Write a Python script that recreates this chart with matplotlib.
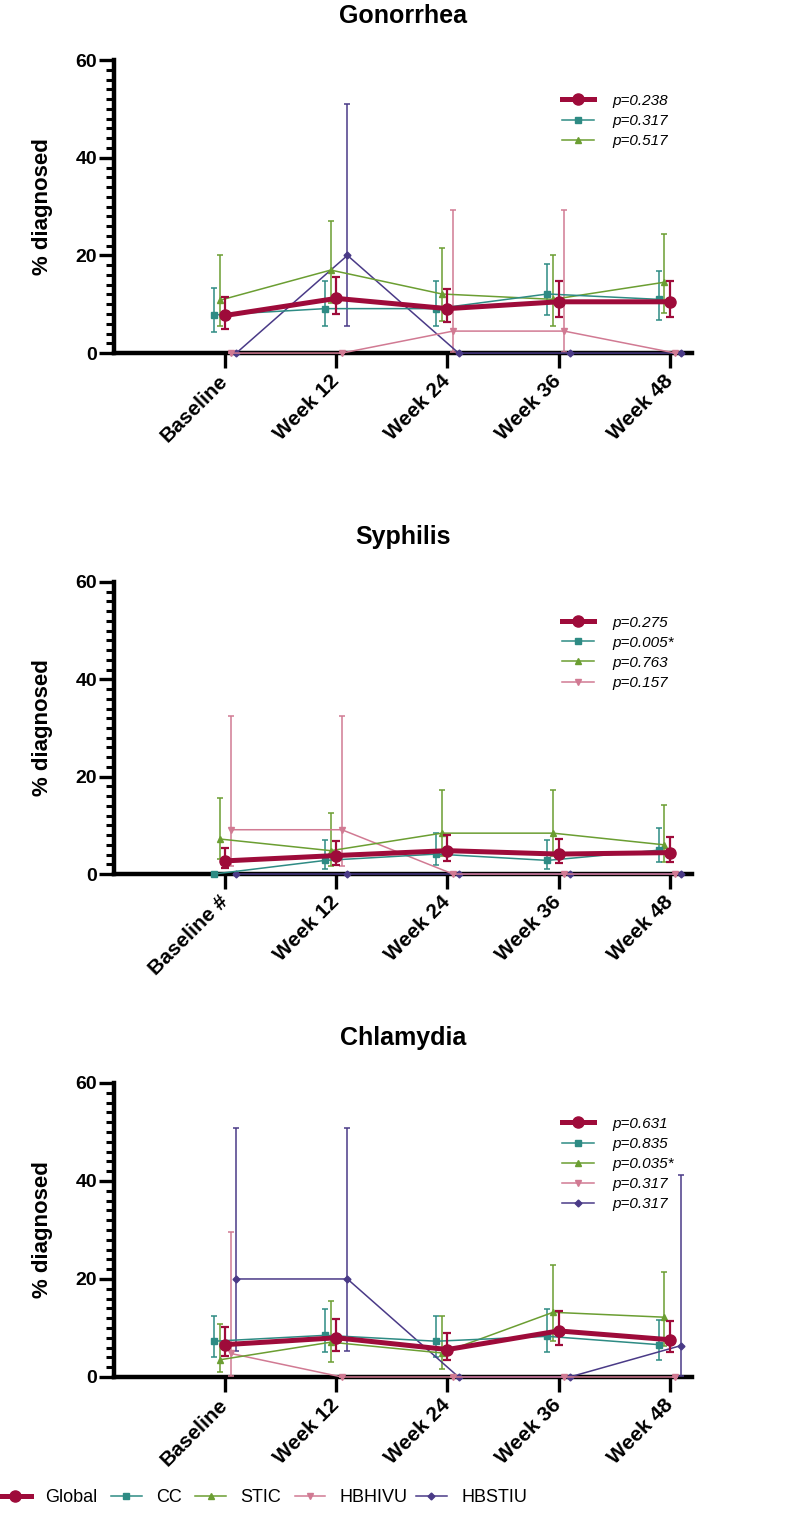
import numpy as np
import matplotlib
matplotlib.use('Agg')
import matplotlib.pyplot as plt
from matplotlib.ticker import MultipleLocator

plt.rcParams['font.family'] = ['Liberation Sans', 'DejaVu Sans']

semanas = ['Baseline', 'Week 12', 'Week 24', 'Week 36', 'Week 48']
semanas_sifilis = ['Baseline #', 'Week 12', 'Week 24', 'Week 36', 'Week 48']
grupos = ['Global', 'CC', 'STIC', 'HBHIVU', 'HBSTIU']

# Gonorrhea: valor, limite inferior, limite superior
gon_global = [7.7, 11.2, 9.1, 10.5, 10.5]
gon_global_lo = [5.0, 8.0, 6.3, 7.4, 7.4]
gon_global_hi = [11.4, 15.5, 13.1, 14.7, 14.7]
gon_cc = [7.8, 9.1, 9.1, 12.1, 11.0]
gon_cc_lo = [4.4, 5.5, 5.5, 7.8, 6.8]
gon_cc_hi = [13.3, 14.7, 14.7, 18.2, 16.8]
gon_stic = [10.8, 17.0, 12.1, 11.0, 14.5]
gon_stic_lo = [5.6, 10.2, 6.5, 5.6, 8.3]
gon_stic_hi = [20.0, 27.1, 21.5, 20.0, 24.4]
gon_hbhivu = [0, 0, 4.5, 4.5, 0]
gon_hbhivu_lo = [0, 0, 0.3, 0.3, 0]
gon_hbhivu_hi = [0, 0, 29.3, 29.3, 0]
gon_hbstiu = [0, 20.0, 0, 0, 0]
gon_hbstiu_lo = [0, 5.5, 0, 0, 0]
gon_hbstiu_hi = [0, 51.0, 0, 0, 0]
gon_p = ['p=0.238', 'p=0.317', 'p=0.517']

# Syphilis
sif_global = [2.7, 3.8, 4.8, 4.1, 4.4]
sif_global_lo = [1.2, 1.9, 2.7, 2.3, 2.5]
sif_global_hi = [5.3, 6.7, 8.1, 7.2, 7.7]
sif_cc = [0, 2.8, 4.1, 2.8, 4.9]
sif_cc_lo = [0, 1.0, 1.9, 1.0, 2.4]
sif_cc_hi = [0, 7.0, 8.5, 7.0, 9.4]
sif_stic = [7.2, 4.8, 8.4, 8.4, 6.0]
sif_stic_lo = [3.1, 1.7, 3.8, 3.8, 2.4]
sif_stic_hi = [15.6, 12.5, 17.2, 17.2, 14.1]
sif_hbhivu = [9.1, 9.1, 0, 0, 0]
sif_hbhivu_lo = [1.6, 1.6, 0, 0, 0]
sif_hbhivu_hi = [32.5, 32.5, 0, 0, 0]
sif_hbstiu = [0, 0, 0, 0, 0]
sif_hbstiu_lo = [0, 0, 0, 0, 0]
sif_hbstiu_hi = [0, 0, 0, 0, 0]
sif_p = ['p=0.275', 'p=0.005*', 'p=0.763', 'p=0.157']

# Chlamydia
cla_global = [6.6, 8.0, 5.6, 9.4, 7.6]
cla_global_lo = [4.2, 5.4, 3.4, 6.6, 5.1]
cla_global_hi = [10.2, 11.8, 9.0, 13.5, 11.5]
cla_cc = [7.3, 8.5, 7.3, 8.3, 6.6]
cla_cc_lo = [4.0, 5.0, 4.0, 5.0, 3.5]
cla_cc_hi = [12.5, 13.9, 12.5, 13.9, 11.7]
cla_stic = [3.5, 7.1, 4.9, 13.2, 12.2]
cla_stic_lo = [1.0, 3.1, 1.7, 7.3, 6.4]
cla_stic_hi = [10.9, 15.6, 12.5, 22.9, 21.4]
cla_hbhivu = [4.8, 0, 0, 0, 0]
cla_hbhivu_lo = [0.3, 0, 0, 0, 0]
cla_hbhivu_hi = [29.5, 0, 0, 0, 0]
cla_hbstiu = [20.0, 20.0, 0, 0, 6.4]
cla_hbstiu_lo = [5.4, 5.4, 0, 0, 0.3]
cla_hbstiu_hi = [50.9, 50.9, 0, 0, 41.3]
cla_p = ['p=0.631', 'p=0.835', 'p=0.035*', 'p=0.317', 'p=0.317']

paineis = [
    ('Gonorrhea', semanas, gon_p, {
        'Global': (gon_global, gon_global_lo, gon_global_hi),
        'CC': (gon_cc, gon_cc_lo, gon_cc_hi),
        'STIC': (gon_stic, gon_stic_lo, gon_stic_hi),
        'HBHIVU': (gon_hbhivu, gon_hbhivu_lo, gon_hbhivu_hi),
        'HBSTIU': (gon_hbstiu, gon_hbstiu_lo, gon_hbstiu_hi)}),
    ('Syphilis', semanas_sifilis, sif_p, {
        'Global': (sif_global, sif_global_lo, sif_global_hi),
        'CC': (sif_cc, sif_cc_lo, sif_cc_hi),
        'STIC': (sif_stic, sif_stic_lo, sif_stic_hi),
        'HBHIVU': (sif_hbhivu, sif_hbhivu_lo, sif_hbhivu_hi),
        'HBSTIU': (sif_hbstiu, sif_hbstiu_lo, sif_hbstiu_hi)}),
    ('Chlamydia', semanas, cla_p, {
        'Global': (cla_global, cla_global_lo, cla_global_hi),
        'CC': (cla_cc, cla_cc_lo, cla_cc_hi),
        'STIC': (cla_stic, cla_stic_lo, cla_stic_hi),
        'HBHIVU': (cla_hbhivu, cla_hbhivu_lo, cla_hbhivu_hi),
        'HBSTIU': (cla_hbstiu, cla_hbstiu_lo, cla_hbstiu_hi)}),
]

cores = {'Global': '#9E0B3A', 'CC': '#2E8B84', 'STIC': '#6B9E32',
         'HBHIVU': '#D17A93', 'HBSTIU': '#4A3A87'}
marcadores = {'Global': 'o', 'CC': 's', 'STIC': '^', 'HBHIVU': 'v', 'HBSTIU': 'D'}
desloc = {'Global': 0.0, 'CC': -0.1, 'STIC': -0.05, 'HBHIVU': 0.05, 'HBSTIU': 0.1}
ordem = ['HBSTIU', 'HBHIVU', 'STIC', 'CC', 'Global']

fig = plt.figure(figsize=(8, 15.14), dpi=100)
posicoes = [[0.1425, 0.7668, 0.7225, 0.1935],
            [0.1425, 0.4227, 0.7225, 0.1929],
            [0.1425, 0.0905, 0.7225, 0.1942]]

x = np.arange(1, 6)
for pos, (nome, rotulos, pvals, dados) in zip(posicoes, paineis):
    ax = fig.add_axes(pos)
    linhas = {}
    for g in ordem:
        val, lo, hi = [np.array(v, dtype=float) for v in dados[g]]
        yerr = [val - lo, hi - val]
        if g == 'Global':
            estilo = dict(lw=3.6, ms=8, capsize=3.2, elinewidth=1.6, capthick=1.6, zorder=10)
        else:
            estilo = dict(lw=1.1, ms=3.5 if g == 'HBSTIU' else 4.2, capsize=2.2,
                          elinewidth=1.1, capthick=1.1, zorder=5)
        c = ax.errorbar(x + desloc[g], val, yerr=yerr, color=cores[g],
                        marker=marcadores[g], clip_on=False, **estilo)
        linhas[g] = c.lines[0]

    ax.set_xlim(0, 5.2)
    ax.set_ylim(0, 60)
    for lado in ['top', 'right']:
        ax.spines[lado].set_visible(False)
    for lado in ['left', 'bottom']:
        ax.spines[lado].set_linewidth(3.2)
    ax.yaxis.set_major_locator(MultipleLocator(20))
    ax.yaxis.set_minor_locator(MultipleLocator(2))
    ax.tick_params(axis='both', which='major', length=11, width=2.4)
    ax.tick_params(axis='y', which='minor', length=5.5, width=2.2)
    ax.tick_params(axis='y', pad=1)
    ax.tick_params(axis='x', pad=7)
    ax.set_xticks(x)
    ax.set_xticklabels(rotulos, rotation=45, ha='right', va='center',
                       rotation_mode='anchor', fontsize=15, fontweight='bold')
    for t in ax.get_yticklabels():
        t.set_fontsize(14)
        t.set_fontweight('bold')
    ax.set_ylabel('% diagnosed', fontsize=16, fontweight='bold')
    ax.yaxis.set_label_coords(-0.105, 0.5)
    ax.set_title(nome, fontsize=18, fontweight='bold', pad=27)

    ax.legend([linhas[g] for g in grupos[:len(pvals)]], pvals,
              loc='upper left', bbox_to_anchor=(0.775, 0.885), frameon=False,
              prop={'style': 'italic', 'size': 11}, handlelength=2.1,
              handletextpad=1.2, labelspacing=0.4, borderpad=0, borderaxespad=0)

# legenda inferior
fig.legend([linhas[g] for g in grupos[:4]], grupos[:4], loc='center left',
           bbox_to_anchor=(0.0, 0.011), ncol=4, frameon=False, fontsize=13,
           handlelength=1.7, handletextpad=0.8, columnspacing=0.75,
           borderpad=0, borderaxespad=0)
fig.legend([linhas['HBSTIU']], ['HBSTIU'], loc='center left',
           bbox_to_anchor=(0.52, 0.011), frameon=False, fontsize=13,
           handlelength=1.7, handletextpad=0.8, borderpad=0, borderaxespad=0)

plt.savefig('out.png', dpi=100)
